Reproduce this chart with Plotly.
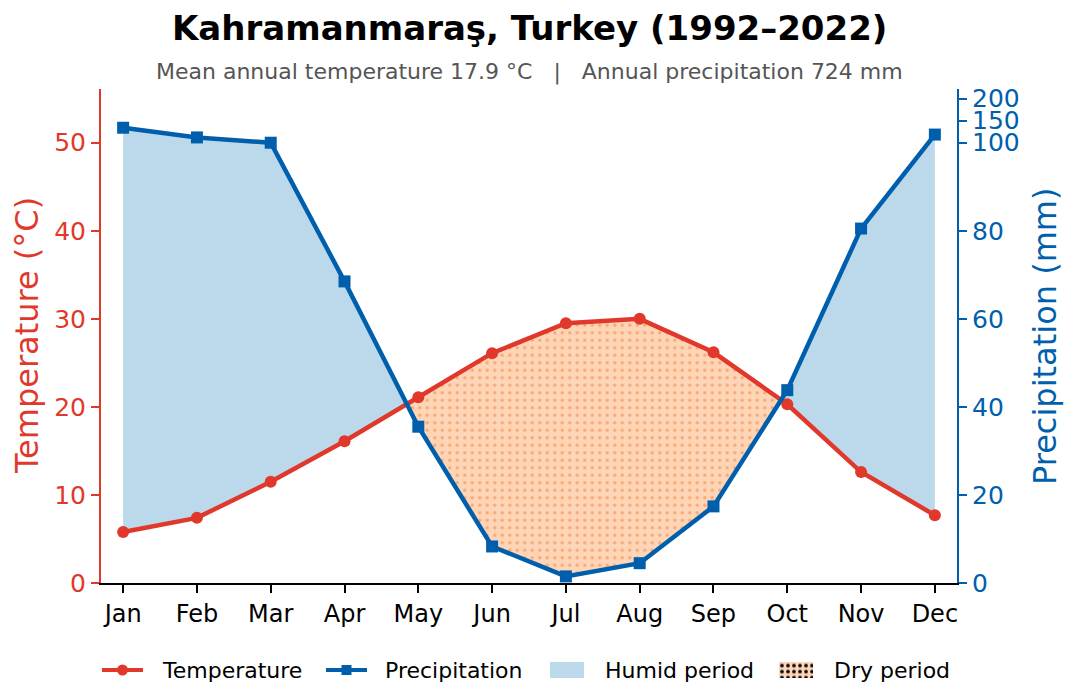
import plotly.graph_objects as go

# ---- data ----
months = ["Jan", "Feb", "Mar", "Apr", "May", "Jun", "Jul", "Aug", "Sep", "Oct", "Nov", "Dec"]
temperature_c = [5.8, 7.4, 11.5, 16.1, 21.1, 26.1, 29.5, 30.0, 26.2, 20.3, 12.6, 7.7]
precip_mm = [134, 112, 100, 68.5, 35.5, 8.3, 1.5, 4.5, 17.4, 43.8, 80.5, 118.5]
temp_ticks = [0, 10, 20, 30, 40, 50]
precip_ticks = [0, 20, 40, 60, 80, 100, 150, 200]
legend_labels = ["Temperature", "Precipitation", "Humid period", "Dry period"]

RED = "#e0392b"
BLUE = "#005fad"
HUMID = "#bcd9ec"
DRY_BG = "#ffd5b8"
DRY_DOT = "#f9a56c"
FONT = "DejaVu Sans"

W, H = 1073, 693
ML, MR, MT, MB = 101, 116, 89, 0
PLOT_BOTTOM_PX = 583
paper_h = H - MT - MB
main_dom0 = (H - PLOT_BOTTOM_PX) / paper_h
leg_dom1 = 0.11
leg_top_px = H - leg_dom1 * paper_h


def scale_p(p):
    """Walter-Lieth scale: 20 mm = 10 degC up to 100 mm, compressed above."""
    return p / 2.0 if p <= 100 else 50.0 + (p - 100) / 20.0


def py(px_from_top):
    """paper y for a pixel row measured from the top of the figure"""
    return (H - MB - px_from_top) / paper_h


xs = list(range(len(months)))
ps = [scale_p(p) for p in precip_mm]

# points with crossings inserted
pts = []
for i in range(len(xs)):
    pts.append((xs[i], temperature_c[i], ps[i]))
    if i < len(xs) - 1:
        d0 = ps[i] - temperature_c[i]
        d1 = ps[i + 1] - temperature_c[i + 1]
        if d0 * d1 < 0:
            f = d0 / (d0 - d1)
            xc = xs[i] + f
            yc = temperature_c[i] + f * (temperature_c[i + 1] - temperature_c[i])
            pts.append((xc, yc, yc))


def region(sign):
    runs, cur = [], []
    for (x, t, p) in pts:
        if (p - t) * sign >= -1e-9:
            cur.append((x, t, p))
        else:
            if len(cur) > 1:
                runs.append(cur)
            cur = []
    if len(cur) > 1:
        runs.append(cur)
    X, Y = [], []
    for run in runs:
        X += [q[0] for q in run] + [q[0] for q in reversed(run)] + [run[0][0], None]
        Y += [q[2] for q in run] + [q[1] for q in reversed(run)] + [run[0][2], None]
    return X, Y


hx, hy = region(1)
dx, dy = region(-1)

fig = go.Figure()
fig.add_trace(go.Scatter(x=hx, y=hy, fill="toself", fillcolor=HUMID, mode="lines",
                         line=dict(width=0), name="Humid period", hoverinfo="skip"))
fig.add_trace(go.Scatter(x=dx, y=dy, fill="toself", mode="lines", line=dict(width=0),
                         fillpattern=dict(shape=".", bgcolor=DRY_BG, fgcolor=DRY_DOT,
                                          size=7.5, solidity=0.16, fillmode="replace"),
                         name="Dry period", hoverinfo="skip"))
fig.add_trace(go.Scatter(x=xs, y=temperature_c, mode="lines+markers", name="Temperature",
                         line=dict(color=RED, width=4.5), marker=dict(color=RED, size=12, symbol="circle")))
fig.add_trace(go.Scatter(x=xs, y=ps, mode="lines+markers", name="Precipitation",
                         line=dict(color=BLUE, width=4.5), marker=dict(color=BLUE, size=12, symbol="square"),
                         yaxis="y2"))

# ---- custom legend (drawn on a hidden pixel-unit axis pair in the bottom strip) ----
LEG_Y = 670
sample_left = [102, 326, 550, 779]
text_left = [160, 383, 603, 832]
SAMPLE_W = 41
SW_W, SW_H = 34, 16
fig.add_trace(go.Scatter(x=[sample_left[0], sample_left[0] + SAMPLE_W], y=[LEG_Y, LEG_Y], mode="lines",
                         line=dict(color=RED, width=4), xaxis="x3", yaxis="y3", hoverinfo="skip"))
fig.add_trace(go.Scatter(x=[sample_left[0] + SAMPLE_W / 2], y=[LEG_Y], mode="markers",
                         marker=dict(color=RED, size=11, symbol="circle"), xaxis="x3", yaxis="y3",
                         hoverinfo="skip"))
fig.add_trace(go.Scatter(x=[sample_left[1], sample_left[1] + SAMPLE_W], y=[LEG_Y, LEG_Y], mode="lines",
                         line=dict(color=BLUE, width=4), xaxis="x3", yaxis="y3", hoverinfo="skip"))
fig.add_trace(go.Scatter(x=[sample_left[1] + SAMPLE_W / 2], y=[LEG_Y], mode="markers",
                         marker=dict(color=BLUE, size=10, symbol="square"), xaxis="x3", yaxis="y3",
                         hoverinfo="skip"))


def rect(x0):
    return ([x0, x0 + SW_W, x0 + SW_W, x0, x0],
            [LEG_Y - SW_H / 2, LEG_Y - SW_H / 2, LEG_Y + SW_H / 2, LEG_Y + SW_H / 2, LEG_Y - SW_H / 2])


rx, ry = rect(sample_left[2])
fig.add_trace(go.Scatter(x=rx, y=ry, fill="toself", fillcolor=HUMID, mode="lines", line=dict(width=0),
                         xaxis="x3", yaxis="y3", hoverinfo="skip"))
rx, ry = rect(sample_left[3])
fig.add_trace(go.Scatter(x=rx, y=ry, fill="toself", mode="lines", line=dict(width=0),
                         fillpattern=dict(shape=".", bgcolor=DRY_BG, fgcolor="#000000",
                                          size=6, solidity=0.3, fillmode="replace"),
                         xaxis="x3", yaxis="y3", hoverinfo="skip"))

mid_px = (MT + PLOT_BOTTOM_PX) / 2
annotations = [
    dict(text="<b>Kahramanmaraş, Turkey (1992–2022)</b>", xref="paper", yref="paper",
         x=0.5, y=py(28), xanchor="center", yanchor="middle", showarrow=False,
         font=dict(size=34, family=FONT, color="black")),
    dict(text="Mean annual temperature 17.9 °C   |   Annual precipitation 724 mm",
         xref="paper", yref="paper", x=0.5, y=py(72), xanchor="center",
         yanchor="middle", showarrow=False, font=dict(size=22, family=FONT, color="#555555")),
    dict(text="Temperature (°C)", xref="paper", yref="paper", x=(27 - ML) / (W - ML - MR),
         y=py(mid_px), xanchor="center", yanchor="middle", textangle=-90, showarrow=False,
         font=dict(size=32, family=FONT, color=RED)),
    dict(text="Precipitation (mm)", xref="paper", yref="paper", x=(1045 - ML) / (W - ML - MR),
         y=py(mid_px), xanchor="center", yanchor="middle", textangle=-90, showarrow=False,
         font=dict(size=32, family=FONT, color=BLUE)),
]
for lbl, tx in zip(legend_labels, text_left):
    annotations.append(dict(text=lbl, xref="x3", yref="y3", x=tx, y=LEG_Y, xanchor="left",
                            yanchor="middle", showarrow=False,
                            font=dict(size=22, family=FONT, color="black")))

YMAX = 56.1
fig.update_layout(
    width=W, height=H,
    margin=dict(l=ML, r=MR, t=MT, b=MB, autoexpand=False),
    paper_bgcolor="white", plot_bgcolor="white",
    font=dict(family=FONT, size=21, color="black"),
    showlegend=False,
    xaxis=dict(range=[-0.3, 11.3], tickvals=xs, ticktext=months, showgrid=False, zeroline=False,
               showline=True, linecolor="black", linewidth=1.5, ticks="outside", ticklen=8,
               tickwidth=1.5, tickcolor="black", tickfont=dict(size=24, color="black", family=FONT),
               anchor="y"),
    yaxis=dict(domain=[main_dom0, 1], range=[0, YMAX], tickvals=temp_ticks, showgrid=False,
               zeroline=False, showline=True, linecolor=RED, linewidth=2, ticks="outside", ticklen=8,
               tickwidth=1.5, tickcolor=RED, tickfont=dict(size=25, color=RED, family=FONT)),
    yaxis2=dict(domain=[main_dom0, 1], range=[0, YMAX], overlaying="y", side="right", anchor="x",
                tickvals=[scale_p(v) for v in precip_ticks], ticktext=[str(v) for v in precip_ticks],
                showgrid=False, zeroline=False, showline=True, linecolor=BLUE, linewidth=2,
                ticks="outside", ticklen=8, tickwidth=1.5, tickcolor=BLUE,
                tickfont=dict(size=25, color=BLUE, family=FONT)),
    xaxis3=dict(domain=[0, 1], range=[ML, W - MR], visible=False, anchor="y3", fixedrange=True),
    yaxis3=dict(domain=[0, leg_dom1], range=[H, leg_top_px], visible=False, anchor="x3",
                fixedrange=True),
    annotations=annotations,
)

fig.write_html("out.html")
